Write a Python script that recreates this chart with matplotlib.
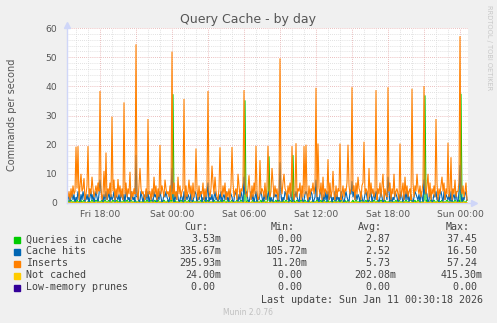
import numpy as np
import matplotlib
matplotlib.use("Agg")
import matplotlib.pyplot as plt

# ── data: 5-minute samples, x in hours relative to Sat 00:00 ────────────────
N_SAMPLES = 401
IDX_SAT_0000 = 105            # sample index of Sat 00:00

# baseline noise, one digit per sample (commands/s)
INSERTS_BASE = (
    "3241526342531624521364253152463742513624153726431524362514372536142537416253421 5"
    "2634152436152736421534261537241536245316245361724351624371526342517364215342637 1"
    "4251637245136254716325341627354126354271635241726351426372541637245136254716253 4"
    "3162547361245371625436172453162547136254716352461732541672354162735246153726415 3"
    "2647153624531624715362451372641536247153642715362471536247153624715362447153624 71"
).replace(" ", "")
HITS_BASE = (
    "2130241302142031420313024130242031420314124031240321304213043120431204230142031 4"
    "1402310423031420132421034120314201320413132040124302134021303402130241203140231 4"
    "1204320143203142013431024130240213420314134021042320143021431302410324210342013 4"
    "3021430124120342031404123021403120431024210430241313204201342013402314310242014 3"
    "1240302143203142031414023102432130420134301420132412034204132130402314104230213 4"
).replace(" ", "")
QUERIES_BASE = (      # halves
    "1201210120210120121001201210121210120121012101210120121012012101210121012010120121 01"
    "2101201210101210120121012010121201210120012101210121012012101012101201201210121 0"
    "1201012101210120121001210121012012101201121012012101201210121012012101210121012 0"
    "0121012101201210120112012101202101201210012012101212101201211012101201210120101 2"
    "1210120121012012101221012012101012012101201210120112010121012101210120012101210 1"
).replace(" ", "")
NOT_CACHED_BASE = (   # tenths
    "2031402130412031204130214031201402130241203142013041203120410321403120140213024 1"
    "1302140312031402130421031402130412031024130241203142031024130214031203140213024 1"
    "0213041203140213024130214031203142013024120314021304120314203104213024130214031 2"
    "2104312031402130241203142013041203142031024130214031203140213024130241203140213 0"
    "3120412031402130241302140312031420130241203140213041203142031024130214031203140 2"
).replace(" ", "")

# hourly spikes (hours from Sat 00:00, value)
INSERT_SPIKE_HOURS = [-8.0, -7.83, -7.58, -7.33, -7.0, -6.67, -6.0, -5.67, -5.5, -5.0,
                      -4.83, -4.5, -4.0, -3.5, -3.0, -2.67, -2.0, -1.5, -1.0, -0.58,
                      0.0, 0.5, 1.0, 1.42, 2.0, 3.0, 3.33, 3.58, 4.0, 5.0,
                      5.5, 6.0, 6.42, 7.0, 7.33, 8.0, 8.33, 9.0, 9.33, 10.0,
                      10.33, 11.0, 11.17, 12.0, 12.17, 12.58, 13.0, 13.42, 14.0, 14.67,
                      15.0, 15.5, 16.0, 16.42, 17.0, 17.58, 18.0, 18.5, 19.0, 19.42,
                      20.0, 20.42, 21.0, 21.33, 22.0, 22.5, 23.0, 23.25, 23.58, 24.0]
INSERT_SPIKE_VALUES = [19.3, 19.5, 10.0, 8.5, 19.5, 9.0, 38.4, 11.0, 17.3, 29.6,
                       8.0, 8.2, 34.5, 10.7, 54.4, 12.0, 28.8, 9.0, 19.9, 8.0,
                       51.9, 9.0, 35.7, 8.0, 18.7, 38.4, 12.8, 9.0, 19.1, 19.2,
                       10.0, 38.7, 9.5, 19.6, 14.7, 19.6, 12.0, 49.6, 10.0, 19.5,
                       20.5, 19.5, 20.0, 39.5, 20.4, 9.0, 15.0, 11.0, 20.4, 20.0,
                       39.7, 9.0, 21.0, 12.0, 38.7, 10.0, 39.7, 10.0, 20.4, 9.0,
                       39.2, 10.0, 40.1, 10.0, 28.8, 9.0, 20.7, 15.7, 8.0, 57.2]
HITS_SPIKE_HOURS = [-6.0, -3.0, 0.0, 3.0, 6.0, 9.0, 12.0, 15.0, 18.0, 21.0, 24.0]
HITS_SPIKE_VALUES = [8.0, 16.5, 12.0, 7.0, 9.0, 14.0, 8.0, 7.5, 9.0, 8.0, 13.0]
QUERIES_SPIKE_HOURS = [0.08, 6.08, 8.08, 10.08, 21.08, 24.08]
QUERIES_SPIKE_VALUES = [37.3, 35.2, 16.0, 16.4, 36.9, 37.45]

TICK_HOURS = [-6, 0, 6, 12, 18, 24]
TICK_LABELS = ["Fri 18:00", "Sat 00:00", "Sat 06:00", "Sat 12:00", "Sat 18:00", "Sun 00:00"]

LEGEND_NAMES = ["Queries in cache", "Cache hits", "Inserts", "Not cached", "Low-memory prunes"]
LEGEND_CUR = ["3.53m", "335.67m", "295.93m", "24.00m", "0.00 "]
LEGEND_MIN = ["0.00 ", "105.72m", "11.20m", "0.00 ", "0.00 "]
LEGEND_AVG = ["2.87 ", "2.52 ", "5.73 ", "202.08m", "0.00 "]
LEGEND_MAX = ["37.45 ", "16.50 ", "57.24 ", "415.30m", "0.00 "]
COLORS = ["#00CC00", "#0066B3", "#FF8000", "#FFCC00", "#330099"]


def series(base, spike_hours, spike_values, scale=1.0):
    vals = np.array([int(c) for c in base[:N_SAMPLES].ljust(N_SAMPLES, "1")], float) * scale
    for h, v in zip(spike_hours, spike_values):
        i = int(round(h * 12)) + IDX_SAT_0000
        if 0 <= i < N_SAMPLES:
            vals[i] = v
    return vals


t = (np.arange(N_SAMPLES) - IDX_SAT_0000) / 12.0
queries = series(QUERIES_BASE, QUERIES_SPIKE_HOURS, QUERIES_SPIKE_VALUES, scale=0.5)
hits = series(HITS_BASE, HITS_SPIKE_HOURS, HITS_SPIKE_VALUES)
inserts = series(INSERTS_BASE, INSERT_SPIKE_HOURS, INSERT_SPIKE_VALUES)
not_cached = series(NOT_CACHED_BASE, [], [], scale=0.1)
prunes = np.zeros(N_SAMPLES)

# ── figure ───────────────────────────────────────────────────────────────
W, H = 497, 323
fig = plt.figure(figsize=(W / 100, H / 100), dpi=100, facecolor="#F0F0F0")
x0, x1, y0, y1 = 67, 468, 203, 28
ax = fig.add_axes([x0 / W, 1 - y0 / H, (x1 - x0) / W, (y0 - y1) / H], facecolor="white")
ax.set_xlim(t[0], t[0] + (x1 - x0) / 12.0)
ax.set_ylim(0, 60)
for s in ax.spines.values():
    s.set_visible(False)

# grid
for y in np.arange(2, 61, 2):
    major = y % 10 == 0
    ax.axhline(y, color="#E5A8A8" if major else "#D8D8D8", lw=0.6,
               ls=(0, (1, 1.5)), zorder=0)
for h in np.arange(-8, 25, 1):
    major = h % 3 == 0
    ax.axvline(h, color="#E5A8A8" if major else "#D8D8D8", lw=0.6,
               ls=(0, (1, 1.5)), zorder=0)

lw = 0.8
for vals, c in zip([queries, hits, inserts, not_cached, prunes], COLORS):
    ax.plot(t, vals, color=c, lw=lw, solid_joinstyle="miter", zorder=2)

txt = "#555555"
ax.set_yticks(range(0, 61, 10))
ax.set_xticks(TICK_HOURS)
ax.set_xticklabels(TICK_LABELS)
ax.tick_params(length=0, labelsize=6.6, colors=txt, pad=5)
ax.tick_params(axis="y", pad=7)

# axes with arrows
axis_c = "#CFD6F8"
ax.plot([0, 0], [0, 1.02], transform=ax.transAxes, color=axis_c, lw=1, clip_on=False, zorder=3)
ax.plot([0], [1.02], transform=ax.transAxes, marker="^", color=axis_c, ms=4, clip_on=False)
ax.plot([0, 1.015], [0, 0], transform=ax.transAxes, color=axis_c, lw=1, clip_on=False, zorder=1)
ax.plot([1.015], [0], transform=ax.transAxes, marker=">", color=axis_c, ms=4, clip_on=False)

fig.text(248 / W, 1 - 19 / H, "Query Cache - by day", ha="center", va="center",
         fontsize=9, color=txt)
fig.text(12 / W, 1 - 115 / H, "Commands per second", rotation=90, ha="center",
         va="center", fontsize=7, color=txt)
fig.text(489 / W, 1 - 5 / H, "RRDTOOL / TOBI OETIKER", rotation=270, ha="center",
         va="top", fontsize=4.8, color="#C8C8C8")

# legend
mono = dict(family="DejaVu Sans Mono", fontsize=7.2, color="#444444", va="center")
for x_end, head in zip([208, 295, 382, 470], ["Cur:", "Min:", "Avg:", "Max:"]):
    fig.text(x_end / W, 1 - 227.5 / H, head, ha="right", **mono)
for r, name in enumerate(LEGEND_NAMES):
    yy = 1 - (239.5 + 12 * r) / H
    fig.patches.append(plt.Rectangle((14 / W, yy - 3 / H), 6 / W, 6 / H,
                                     transform=fig.transFigure, color=COLORS[r]))
    fig.text(26 / W, yy, name, ha="left", **mono)
    for x_end, col in zip([221, 308, 396, 483],
                          [LEGEND_CUR, LEGEND_MIN, LEGEND_AVG, LEGEND_MAX]):
        v = col[r]
        if not v.endswith((" ", "m")):
            v += " "
        fig.text(x_end / W, yy, v, ha="right", **mono)
fig.text(483 / W, 1 - 300 / H, "Last update: Sun Jan 11 00:30:18 2026", ha="right", **mono)
fig.text(248 / W, 1 - 312.5 / H, "Munin 2.0.76", ha="center", va="center",
         fontsize=5.5, color="#C0C0C0")

fig.savefig("out.png", dpi=100, facecolor=fig.get_facecolor())
